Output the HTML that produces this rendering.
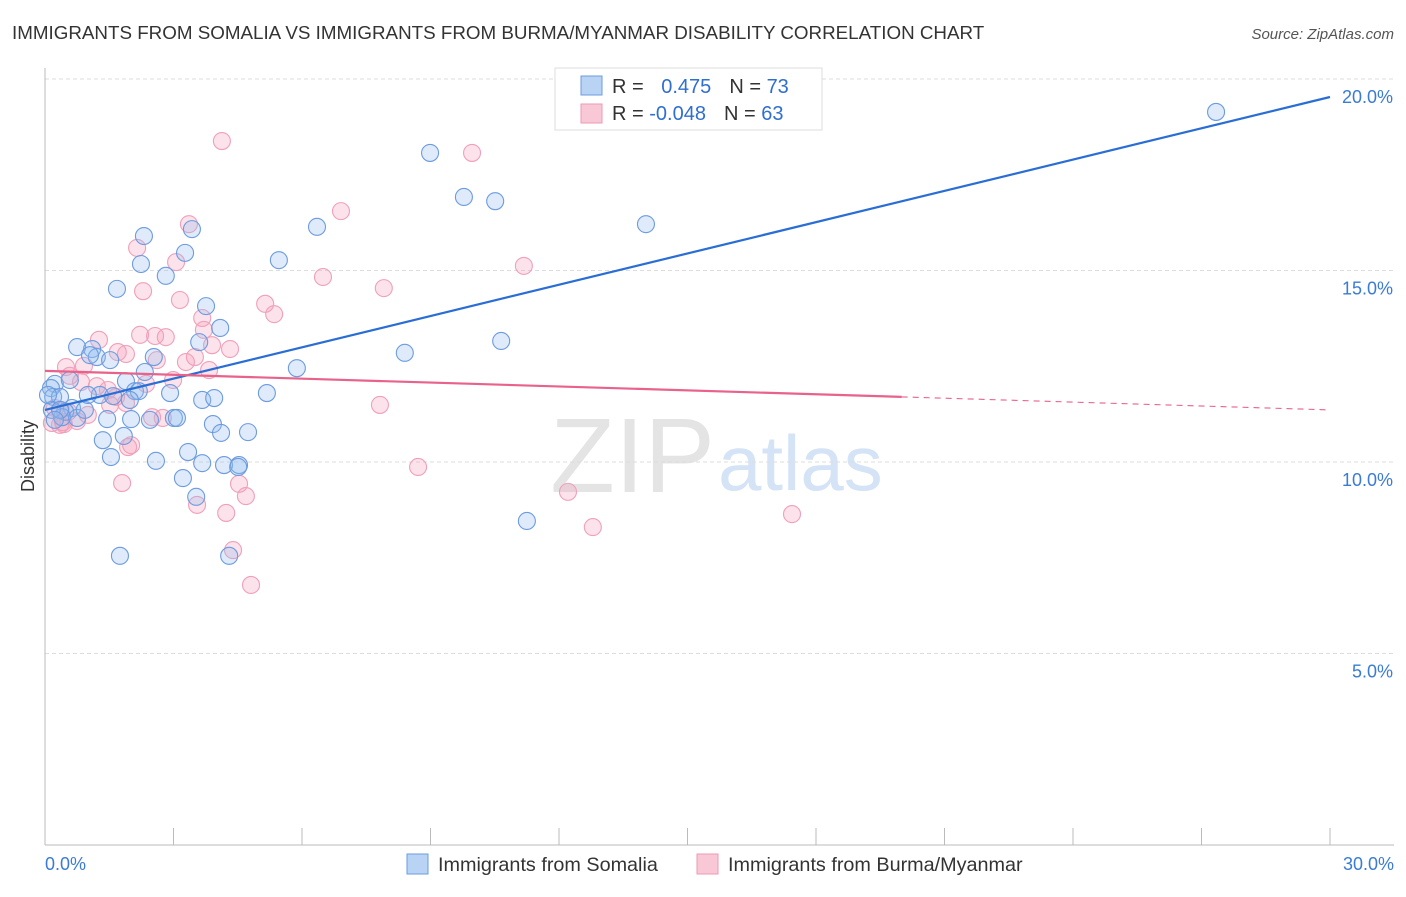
<!DOCTYPE html>
<html><head><meta charset="utf-8"><style>
body{margin:0;background:#fff;font-family:"Liberation Sans",sans-serif}
svg text{font-family:"Liberation Sans",sans-serif}
</style></head><body>
<svg id="c" width="1406" height="892" xmlns="http://www.w3.org/2000/svg">
<text x="12" y="39" font-size="18.8" fill="#333">IMMIGRANTS FROM SOMALIA VS IMMIGRANTS FROM BURMA/MYANMAR DISABILITY CORRELATION CHART</text>
<text x="1394" y="39" font-size="15" fill="#555" font-style="italic" text-anchor="end">Source: ZipAtlas.com</text>
<text x="715" y="492" font-size="106" fill="#e4e4e4" text-anchor="end" font-family="Liberation Serif">ZIP</text>
<text x="718" y="490" font-size="78" fill="#d4e3f5">atlas</text>
<g id="grid"></g><g id="pts"></g><g id="lines"></g>
<text transform="translate(34,456) rotate(-90)" font-size="18" fill="#333" text-anchor="middle">Disability</text>
<text x="45" y="870" font-size="18" fill="#3a7bd5">0.0%</text>
<text x="1394" y="870" font-size="18" fill="#3a7bd5" text-anchor="end">30.0%</text>
<g>
<rect x="555" y="68" width="267" height="62" fill="#fff" stroke="#ddd"/>
<rect x="581" y="76" width="21" height="19" fill="#b8d3f3" stroke="#6b9de0"/>
<rect x="581" y="104" width="21" height="19" fill="#f9c8d6" stroke="#ec9ab3"/>
<text x="612" y="93" font-size="20" fill="#333">R = <tspan fill="#2f6fd0" dx="12">0.475</tspan><tspan dx="18" fill="#333">N = </tspan><tspan fill="#2f6fd0">73</tspan></text>
<text x="612" y="120" font-size="20" fill="#333">R = <tspan fill="#2f6fd0">-0.048</tspan><tspan dx="18" fill="#333">N = </tspan><tspan fill="#2f6fd0">63</tspan></text>
</g>
<g>
<rect x="407" y="854" width="21" height="20" fill="#b8d3f3" stroke="#6b9de0"/>
<text x="438" y="871" font-size="19.8" fill="#333">Immigrants from Somalia</text>
<rect x="697" y="854" width="21" height="20" fill="#f9c8d6" stroke="#ec9ab3"/>
<text x="728" y="871" font-size="19.8" fill="#333">Immigrants from Burma/Myanmar</text>
</g>
</svg>
<script>
const yTicks=[5,10,15,20];
const yTickLabels=["5.0%","10.0%","15.0%","20.0%"];
const somaliaPx=[[1216,112],[430,153],[464,197],[495,201],[646,224],[317,227],[144,236],[192,229],[185,253],[141,264],[279,260],[166,276],[117,289],[206,306],[220,328],[77,347],[92,349],[97,357],[199,342],[154,357],[405,353],[501,341],[297,368],[145,372],[55,384],[51,388],[126,381],[135,391],[139,391],[170,393],[267,393],[100,395],[113,396],[53,397],[60,397],[202,400],[214,398],[130,400],[72,408],[65,412],[62,417],[77,418],[107,419],[131,419],[150,420],[174,418],[177,418],[213,424],[221,433],[248,432],[124,436],[103,440],[111,457],[156,461],[188,452],[202,463],[224,465],[239,465],[238,467],[183,478],[196,497],[527,521],[120,556],[229,556],[52,410],[48,395],[60,410],[85,410],[55,420],[110,360],[70,380],[90,355],[88,395]];
const burmaPx=[[222,141],[472,153],[341,211],[189,224],[137,248],[176,262],[323,277],[524,266],[143,291],[180,300],[384,288],[265,304],[274,314],[202,318],[204,330],[140,335],[99,340],[155,336],[166,337],[212,345],[230,349],[118,352],[126,354],[157,360],[195,357],[186,362],[66,367],[84,366],[209,370],[70,376],[81,382],[146,384],[97,386],[108,390],[116,397],[126,403],[55,408],[61,410],[68,412],[88,415],[152,417],[163,418],[380,405],[52,423],[60,425],[64,424],[77,421],[131,445],[128,447],[418,467],[122,483],[239,484],[246,496],[197,505],[226,513],[568,492],[593,527],[792,514],[233,550],[251,585],[63,422],[110,405],[173,380]];
const somaliaX=somaliaPx.map(p=>+((p[0]-45)/1285*30).toFixed(2));
const somaliaY=somaliaPx.map(p=>+((845-p[1])/191.5*5).toFixed(2));
const burmaX=burmaPx.map(p=>+((p[0]-45)/1285*30).toFixed(2));
const burmaY=burmaPx.map(p=>+((845-p[1])/191.5*5).toFixed(2));
const somaliaTrend=[11.36,19.53];
const burmaTrend=[12.38,11.70,11.36];
const X=v=>45+v/30*1285, Y=v=>845-v/5*191.5;
const NS="http://www.w3.org/2000/svg";
function mk(t,a,p){const e=document.createElementNS(NS,t);for(const k in a)e.setAttribute(k,a[k]);p.appendChild(e);return e;}
const g=document.getElementById('grid');
yTicks.forEach((t,i)=>{
 const l=mk('line',{x1:45,x2:1394,y1:Y(t),y2:Y(t),stroke:'#ddd','stroke-dasharray':'4,3'},g);
 
 
 const tx=mk('text',{x:1393,y:Y(t)+24,'font-size':18,fill:'#3a7bd5','text-anchor':'end'},g);
 tx.textContent=yTickLabels[i];
 
 
});
const ax=mk('line',{x1:45,x2:45,y1:68,y2:845,stroke:'#bbb'},g);


const bx=mk('line',{x1:45,x2:1394,y1:845,y2:845,stroke:'#bbb'},g);


for(let i=0;i<=10;i++){const t=mk('line',{x1:X(i*3),x2:X(i*3),y1:828,y2:845,stroke:'#bbb'},g);
 
 }
const pg=document.getElementById('pts');
burmaX.forEach((x,i)=>{const c=mk('circle',{cx:X(x),cy:Y(burmaY[i]),r:8.5,fill:'rgba(244,160,185,0.3)',stroke:'#f0a0ba','stroke-width':1.1},pg);
 
 });
somaliaX.forEach((x,i)=>{const c=mk('circle',{cx:X(x),cy:Y(somaliaY[i]),r:8.5,fill:'rgba(150,190,240,0.3)',stroke:'#6c9be0','stroke-width':1.1},pg);
 
 });
const lg=document.getElementById('lines');
const b=mk('line',{x1:X(0),y1:Y(somaliaTrend[0]),x2:X(30),y2:Y(somaliaTrend[1]),stroke:'#2a6dd4','stroke-width':2.2},lg);


const p=mk('line',{x1:X(0),y1:Y(burmaTrend[0]),x2:X(20),y2:Y(burmaTrend[1]),stroke:'#e8628c','stroke-width':2.2},lg);


const pd=mk('line',{x1:X(20),y1:Y(burmaTrend[1]),x2:X(30),y2:Y(burmaTrend[2]),stroke:'#e8628c','stroke-width':1.1,'stroke-dasharray':'6,5'},lg);


</script>
</body></html>
